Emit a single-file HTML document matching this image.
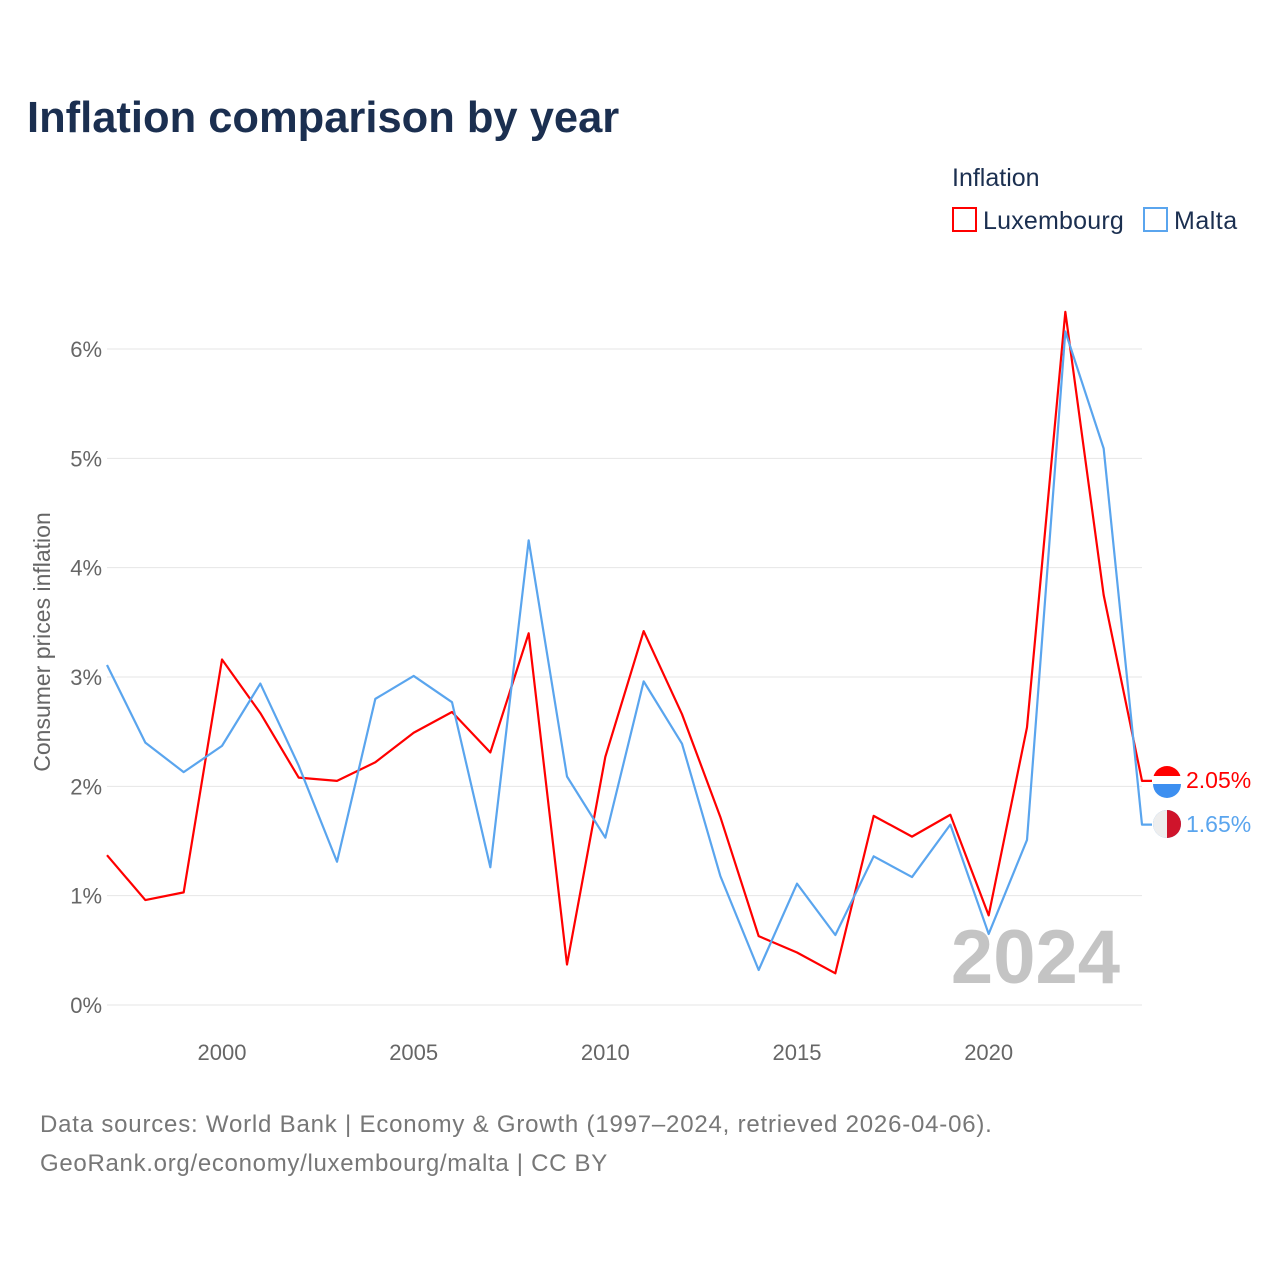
<!DOCTYPE html>
<html><head><meta charset="utf-8"><style>
body{margin:0;background:#fff;font-family:"Liberation Sans",sans-serif}
</style></head><body>
<svg id="chart" width="1280" height="1280" viewBox="0 0 1280 1280" xmlns="http://www.w3.org/2000/svg">
<rect width="1280" height="1280" fill="#fff"/>
<text x="27" y="132" font-size="43.5" font-weight="bold" fill="#1b2f50">Inflation comparison by year</text>
<text x="952" y="186" font-size="25" fill="#1b2f50">Inflation</text>
<g><rect x="953" y="208" width="23" height="23" fill="none" stroke="#ff0000" stroke-width="2"/><text x="983" y="229" font-size="25" letter-spacing="0.2" fill="#1b2f50">Luxembourg</text></g>
<g><rect x="1144" y="208" width="23" height="23" fill="none" stroke="#5aa5ee" stroke-width="2"/><text x="1174" y="229" font-size="25" letter-spacing="0.5" fill="#1b2f50">Malta</text></g>
<text transform="translate(50,642) rotate(-90)" text-anchor="middle" font-size="23" fill="#666">Consumer prices inflation</text>
<g id="grid"></g><g id="yt"></g><g id="xt"></g>
<text x="1120" y="983" text-anchor="end" font-size="76" font-weight="bold" fill="#c4c4c4">2024</text>
<g id="series"></g>
<text x="40" y="1132" font-size="24" letter-spacing="0.8" fill="#777">Data sources: World Bank | Economy &amp; Growth (1997–2024, retrieved 2026-04-06).</text>
<text x="40" y="1171" font-size="24" letter-spacing="0.7" fill="#777">GeoRank.org/economy/luxembourg/malta | CC BY</text>
</svg>
<script>
const years=[1997,1998,1999,2000,2001,2002,2003,2004,2005,2006,2007,2008,2009,2010,2011,2012,2013,2014,2015,2016,2017,2018,2019,2020,2021,2022,2023,2024];
const luxembourg=[1.37,0.96,1.03,3.16,2.67,2.08,2.05,2.22,2.49,2.68,2.31,3.40,0.37,2.27,3.42,2.66,1.72,0.63,0.48,0.29,1.73,1.54,1.74,0.82,2.54,6.34,3.75,2.05];
const malta=[3.11,2.40,2.13,2.37,2.94,2.19,1.31,2.80,3.01,2.77,1.26,4.25,2.09,1.53,2.96,2.39,1.18,0.32,1.11,0.64,1.36,1.17,1.65,0.65,1.51,6.16,5.09,1.65];
const yTicks=[0,1,2,3,4,5,6];
const xTicks=[2000,2005,2010,2015,2020];
const NS="http://www.w3.org/2000/svg";
const x=v=>107+(v-1997)*(1142-107)/27;
const y=v=>1005-v*109.33;
function mk(t,a,p){const e=document.createElementNS(NS,t);for(const k in a)e.setAttribute(k,a[k]);p.appendChild(e);return e;}
const G=document.getElementById('grid'),YT=document.getElementById('yt'),XT=document.getElementById('xt'),S=document.getElementById('series');
yTicks.forEach(t=>{
 const l=mk('line',{x1:107,x2:1142,y1:y(t),y2:y(t),stroke:'#e6e6e6','stroke-width':1},G);
 
 
 const tx=mk('text',{x:102,y:y(t)+8,'text-anchor':'end','font-size':22,fill:'#666'},YT);tx.textContent=t+'%';
 
 
});
xTicks.forEach(t=>{
 const tx=mk('text',{x:x(t),y:1060,'text-anchor':'middle','font-size':22,fill:'#666'},XT);tx.textContent=t;
 
 
});
function series(vals,color,name,ly){
 const pts=vals.map((v,i)=>x(years[i])+','+y(v));
 pts.push((x(years[years.length-1])+10)+','+y(vals[vals.length-1]));
 const p=mk('polyline',{points:pts.join(' '),fill:'none',stroke:color,'stroke-width':2.2,'stroke-linejoin':'round'},S);
 
 
 const last=vals[vals.length-1];
 const c=mk('circle',{cx:1167,cy:ly,r:14,fill:color},S);
 
 
 const t=mk('text',{x:1186,y:ly+8,'font-size':23,fill:color},S);t.textContent=last.toFixed(2)+'%';
 
 
 return c;
}
series(luxembourg,'#ff0000','luxembourg',780);
const lf=mk('rect',{x:1153,y:776,width:28,height:8,fill:'#fff'},S);


const lb=mk('path',{d:'M1153,784 h28 a14,14 0 0 1 -28,0z',fill:'#3d8ff0'},S);


series(malta,'#5aa5ee','malta',824);
const mf=mk('path',{d:'M1167,810 a14,14 0 0 0 0,28z',fill:'#eee'},S);


const mr=mk('path',{d:'M1167,810 a14,14 0 0 1 0,28z',fill:'#cf142b'},S);


</script>
</body></html>
